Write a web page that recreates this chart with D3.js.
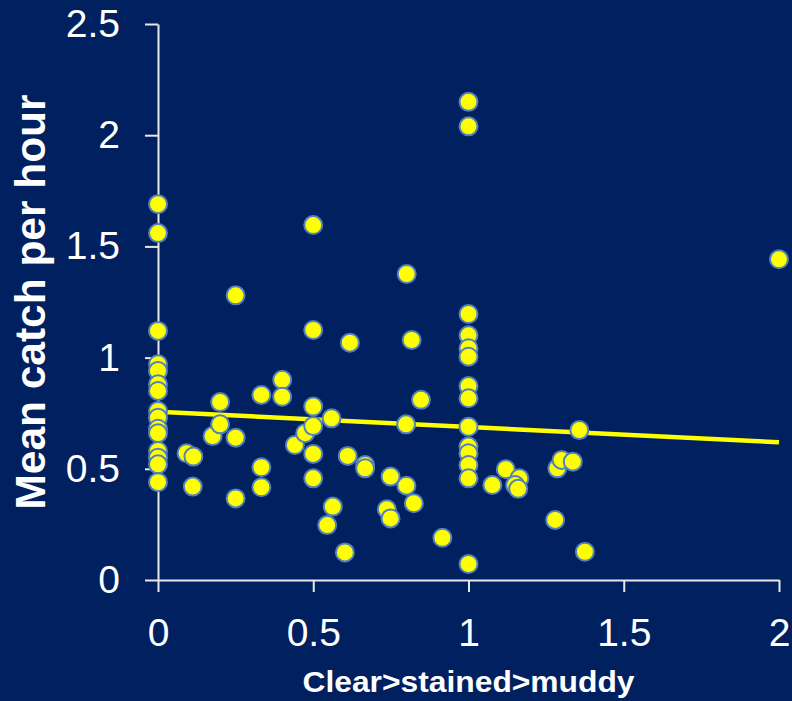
<!DOCTYPE html>
<html>
<head>
<meta charset="utf-8">
<script src="https://cdnjs.cloudflare.com/ajax/libs/d3/7.8.5/d3.min.js"></script>
<style>
    body { margin: 0; background: #002060; }
    svg { display: block; }
</style>
</head>
<body>
<svg id="chart" width="792" height="701"></svg>
<script>
// water clarity score (0 = clear, 1 = stained, 2 = muddy) and mean catch per hour
var clarity = [
    0, 0, 0, 0, 0, 0, 0, 0, 0, 0, 0, 0, 0, 0, 0,
    0.092, 0.114, 0.112, 0.176, 0.2, 0.2, 0.25, 0.25, 0.25,
    0.333, 0.333, 0.333, 0.4, 0.4, 0.441, 0.474,
    0.5, 0.5, 0.5, 0.5, 0.5, 0.5,
    0.559, 0.545, 0.563, 0.602, 0.611, 0.618, 0.667, 0.667,
    0.737, 0.749, 0.749, 0.801, 0.799, 0.8, 0.817, 0.824, 0.847, 0.916,
    1, 1, 1, 1, 1, 1, 1, 1, 1, 1, 1, 1, 1, 1,
    1.077, 1.12, 1.164, 1.15, 1.16,
    1.279, 1.286, 1.3, 1.336, 1.357, 1.375,
    2
];
var catch_rate = [
    1.69, 1.56, 1.12, 0.97, 0.94, 0.88, 0.85, 0.76, 0.73, 0.68, 0.66, 0.58, 0.55, 0.52, 0.44,
    0.57, 0.555, 0.42, 0.647, 0.80, 0.70, 1.28, 0.64, 0.367,
    0.832, 0.507, 0.417, 0.90, 0.824, 0.607, 0.66,
    1.596, 1.124, 0.78, 0.692, 0.567, 0.457,
    0.727, 0.247, 0.33, 0.124, 0.558, 1.067, 0.517, 0.502,
    0.318, 0.465, 0.277, 1.376, 0.70, 0.424, 1.079, 0.345, 0.81, 0.19,
    2.15, 2.04, 1.196, 1.10, 1.042, 1.004, 0.872, 0.817, 0.689, 0.6, 0.57, 0.517, 0.457, 0.072,
    0.427, 0.498, 0.457, 0.427, 0.41,
    0.27, 0.502, 0.54, 0.532, 0.674, 0.127,
    1.442
];

// linear trend line
var trend_intercept = 0.757;
var trend_slope = -0.069;

var x_ticks = [0, 0.5, 1, 1.5, 2];
var y_ticks = [0, 0.5, 1, 1.5, 2, 2.5];

const FONT = "'Liberation Sans', Arial, sans-serif";
const AXIS_COLOR = "#e8e8e8";

function build_chart() {
    var svg = d3.select("svg#chart");
    var margin = { top: 24, right: 13, bottom: 121, left: 158 };
    var width = 792 - margin.left - margin.right;
    var height = 701 - margin.top - margin.bottom;

    svg.append("rect")
        .attr("width", 792)
        .attr("height", 701)
        .attr("fill", "#002060");

    var x = d3.scaleLinear().domain([0, 2]).range([0, width]);
    var y = d3.scaleLinear().domain([0, 2.5]).range([height, 0]);

    var g = svg.append("g")
        .attr("transform", "translate(" + margin.left + "," + margin.top + ")");

    var x_axis = g.append("g")
        .attr("transform", "translate(0," + height + ")")
        .call(d3.axisBottom(x)
            .tickValues(x_ticks)
            .tickFormat(d => String(d))
            .tickSize(12)
            .tickSizeOuter(0)
            .tickPadding(26));

    var y_axis = g.append("g")
        .call(d3.axisLeft(y)
            .tickValues(y_ticks)
            .tickFormat(d => String(d))
            .tickSize(13)
            .tickSizeOuter(0)
            .tickPadding(25));

    [x_axis, y_axis].forEach(function(axis) {
        axis.select(".domain").attr("stroke", AXIS_COLOR).attr("stroke-width", 2);
        axis.selectAll(".tick line").attr("stroke", AXIS_COLOR).attr("stroke-width", 2);
        axis.selectAll(".tick text")
            .attr("fill", "white")
            .style("font-family", FONT)
            .style("font-size", "39px");
    });

    // trend line
    g.append("line")
        .attr("x1", x(0))
        .attr("y1", y(trend_intercept))
        .attr("x2", x(2))
        .attr("y2", y(trend_intercept + trend_slope * 2))
        .attr("stroke", "#ffff00")
        .attr("stroke-width", 4.5);

    var points = clarity.map((c, i) => ({ x: c, y: catch_rate[i] }));

    g.append("g")
        .selectAll("circle")
        .data(points)
        .join("circle")
        .attr("cx", d => x(d.x))
        .attr("cy", d => y(d.y))
        .attr("r", 9)
        .attr("fill", "#ffff00")
        .attr("stroke", "#4f81bd")
        .attr("stroke-width", 2);

    // axis titles
    svg.append("text")
        .attr("x", margin.left + width / 2)
        .attr("y", 692)
        .attr("text-anchor", "middle")
        .attr("fill", "white")
        .style("font-family", FONT)
        .style("font-weight", "bold")
        .style("font-size", "29px")
        .attr("textLength", 332)
        .attr("lengthAdjust", "spacingAndGlyphs")
        .text("Clear>stained>muddy");

    svg.append("text")
        .attr("transform", "translate(45," + (margin.top + height / 2) + ") rotate(-90)")
        .attr("text-anchor", "middle")
        .attr("fill", "white")
        .style("font-family", FONT)
        .style("font-weight", "bold")
        .style("font-size", "42px")
        .attr("textLength", 415)
        .attr("lengthAdjust", "spacingAndGlyphs")
        .text("Mean catch per hour");
}

build_chart();
</script>
</body>
</html>
